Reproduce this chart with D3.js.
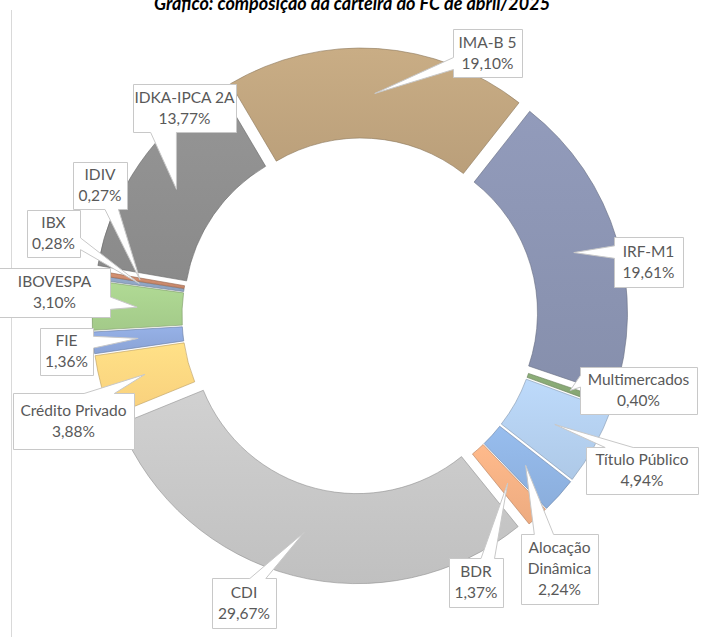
<!DOCTYPE html>
<html>
<head>
<meta charset="utf-8">
<script src="https://cdn.jsdelivr.net/npm/d3@7"></script>
<style>
  body { margin: 0; background: #fff; }
  svg { display: block; }
</style>
</head>
<body>
<div id="chart"></div>
<script>
// Portfolio composition (% of total), in the order Excel draws the slices
const categories = [
  "Alocação Dinâmica", "BDR", "CDI", "Crédito Privado", "FIE", "IBOVESPA",
  "IBX", "IDIV", "IDKA-IPCA 2A", "IMA-B 5", "IRF-M1", "Multimercados", "Título Público"
];
const values = [2.24, 1.37, 29.67, 3.88, 1.36, 3.10, 0.28, 0.27, 13.77, 19.10, 19.61, 0.40, 4.94];
const colors = [
  "#8fb3e2", "#f4b084", "#c6c6c6", "#ffd580", "#8ea8db", "#a8d08d",
  "#8fa5c4", "#cc8a6c", "#8e8e8e", "#bfa47e", "#8a93b1", "#86a673", "#b3cfee"
];
const title = "Gráfico: composição da carteira do FC de abril/2025";

// callout boxes placed by hand in the original workbook: [x, y, w, h, wrap]
const labelBoxes = {
  "Alocação Dinâmica": [521, 534, 77, 70, true],
  "BDR": [449, 558, 54, 49],
  "CDI": [212, 578, 64, 50],
  "Crédito Privado": [13, 393, 121, 56],
  "FIE": [40, 328, 53, 47],
  "IBOVESPA": [-1, 268, 111, 49],
  "IBX": [27, 210, 53, 47],
  "IDIV": [73, 162, 54, 47],
  "IDKA-IPCA 2A": [133, 84, 103, 48],
  "IMA-B 5": [453, 29, 69, 48],
  "IRF-M1": [614, 237, 69, 50],
  "Multimercados": [580, 367, 117, 47],
  "Título Público": [586, 447, 112, 47]
};

const width = 701, height = 637;
const cx = 360, cy = 316;
const outerR = 256, innerR = 166, explode = 12;
const firstSliceAngle = 128; // degrees

const svg = d3.select("#chart").append("svg")
  .attr("width", width)
  .attr("height", height);

// left edge of the chart area
svg.append("line")
  .attr("x1", 11.5).attr("x2", 11.5)
  .attr("y1", 10).attr("y2", height)
  .attr("stroke", "#d9d9d9")
  .attr("stroke-width", 1);

// title (cut off at the top of the screenshot, as in the source)
svg.append("text")
  .attr("x", 352)
  .attr("y", 10)
  .attr("text-anchor", "middle")
  .style("font-family", "Lato, 'Open Sans', sans-serif")
  .style("font-size", "18px")
  .style("font-weight", "bold")
  .style("font-style", "italic")
  .attr("fill", "#000")
  .text(title);

const data = categories.map((name, i) => ({ name, value: values[i], color: colors[i] }));

const start = firstSliceAngle * Math.PI / 180;
const pie = d3.pie().sort(null).value(d => d.value)
  .startAngle(start).endAngle(start + 2 * Math.PI);
const arcs = pie(data);

const arc = d3.arc().innerRadius(innerR).outerRadius(outerR);

// per-slice gradient, lighter on top
const defs = svg.append("defs");
arcs.forEach((a, i) => {
  const g = defs.append("linearGradient")
    .attr("id", "grad" + i)
    .attr("x1", 0).attr("y1", 0).attr("x2", 0).attr("y2", 1);
  g.append("stop").attr("offset", "0%").attr("stop-color", d3.color(a.data.color).brighter(0.15));
  g.append("stop").attr("offset", "100%").attr("stop-color", d3.color(a.data.color).darker(0.08));
});

const shift = a => {
  const m = (a.startAngle + a.endAngle) / 2;
  return [Math.sin(m) * explode, -Math.cos(m) * explode];
};

const g = svg.append("g").attr("transform", `translate(${cx},${cy})`);

g.selectAll("path.slice")
  .data(arcs)
  .enter()
  .append("path")
  .attr("class", "slice")
  .attr("transform", d => `translate(${shift(d)})`)
  .attr("d", arc)
  .attr("fill", (d, i) => `url(#grad${i})`)
  .attr("stroke", d => d3.color(d.data.color).darker(0.9))
  .attr("stroke-width", 0.6);

// callout shape: rectangle with a wedge pointing at the slice
function calloutPath(x, y, w, h, tx, ty) {
  const dx = tx - (x + w / 2), dy = ty - (y + h / 2);
  const p = [];
  const horiz = Math.abs(dx) / w > Math.abs(dy) / h;
  const yA = y + h * (dy > 0 ? 7 : 2) / 12, yB = y + h * (dy > 0 ? 10 : 5) / 12;
  const xA = x + w * (dx > 0 ? 7 : 2) / 12, xB = x + w * (dx > 0 ? 10 : 5) / 12;
  p.push([x, y]);
  if (!horiz && dy < 0) p.push([xA, y], [tx, ty], [xB, y]);
  p.push([x + w, y]);
  if (horiz && dx > 0) p.push([x + w, yA], [tx, ty], [x + w, yB]);
  p.push([x + w, y + h]);
  if (!horiz && dy > 0) p.push([xB, y + h], [tx, ty], [xA, y + h]);
  p.push([x, y + h]);
  if (horiz && dx < 0) p.push([x, yB], [tx, ty], [x, yA]);
  return "M" + p.map(q => q.join(",")).join("L") + "Z";
}

const fmt = v => d3.format(".2f")(v).replace(".", ",") + "%";

const labels = svg.append("g").attr("class", "labels");

arcs.forEach(a => {
  const [bx, by, bw, bh, wrap] = labelBoxes[a.data.name];
  const c = arc.centroid(a);
  const s = shift(a);
  const tx = cx + c[0] + s[0], ty = cy + c[1] + s[1];

  labels.append("path")
    .attr("d", calloutPath(bx + 0.5, by + 0.5, bw, bh, tx, ty))
    .attr("fill", "#fff")
    .attr("stroke", "#c8c8c8")
    .attr("stroke-width", 1);

  const lines = wrap ? a.data.name.split(" ").concat([fmt(a.data.value)])
                     : [a.data.name, fmt(a.data.value)];
  const lineH = 21;
  const y0 = by + bh / 2 - (lines.length - 1) * lineH / 2 + 5;
  const t = labels.append("text")
    .attr("text-anchor", "middle")
    .style("font-family", "Lato, 'Open Sans', sans-serif")
    .style("font-size", "15.5px")
    .attr("fill", "#595959");
  lines.forEach((ln, j) => {
    t.append("tspan")
      .attr("x", bx + bw / 2)
      .attr("y", y0 + j * lineH)
      .text(ln);
  });
});
</script>
</body>
</html>
